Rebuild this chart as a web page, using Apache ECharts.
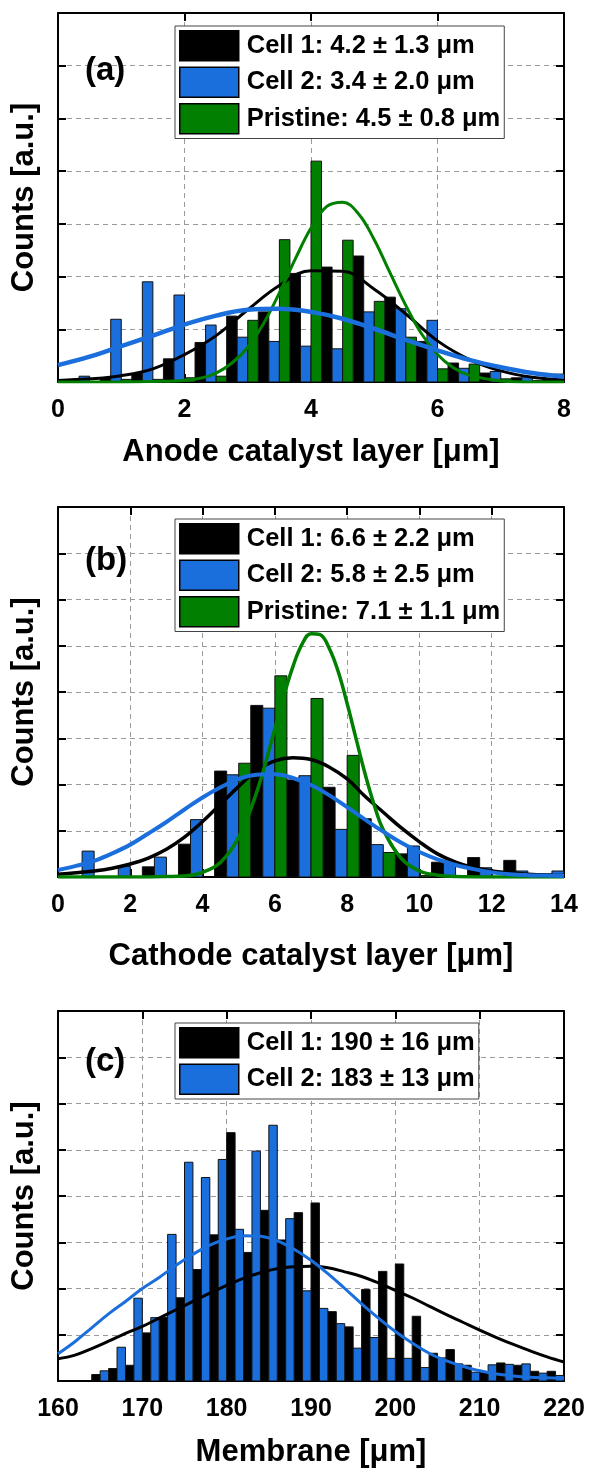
<!DOCTYPE html>
<html><head><meta charset="utf-8">
<script src="https://cdn.jsdelivr.net/npm/echarts@6/dist/echarts.min.js"></script>
<style>html,body{margin:0;padding:0;background:#fff}#c{width:590px;height:1475px}</style>
</head><body><div id="c"></div><script>
// ---------- Panel (a): anode catalyst layer ----------
const aBins = [0.5,1,1.5,2,2.5,3,3.5,4,4.5,5,5.5,6,6.5,7,7.5,8];
const aCell1 = [0.03,0.08,0.16,0.44,0.75,1.25,1.33,2.06,2.18,2.39,1.61,0.77,0.36,0.17,0.08,0.05];
const aCell2 = [0.11,1.19,1.90,1.65,1.08,0.85,0.77,0.68,0.63,1.33,1.39,1.17,0.26,0.20,0.10,0.15];
const aPristine = [0,0.05,0.05,0.08,0.11,1.17,2.70,4.19,2.69,1.53,0.85,0.25,0.34,0.06,0.03,0];
const aFitX = [0,0.5,1,1.5,2,2.5,3,3.5,4,4.5,5,5.5,6,6.5,7,7.5,8];
const aFitCell1 = [0.03,0.06,0.12,0.25,0.52,0.88,1.37,1.83,2.11,2.10,1.76,1.29,0.78,0.43,0.21,0.09,0.04];
const aFitCell2 = [0.32,0.48,0.68,0.88,1.09,1.26,1.37,1.39,1.33,1.20,1.01,0.80,0.60,0.42,0.28,0.17,0.10];
const aFitPristineX = [0,1,1.5,2,2.25,2.5,2.75,3,3.25,3.5,3.75,4,4.25,4.5,4.75,5,5.25,5.5,5.75,6,6.25,6.5,7,7.5,8];
const aFitPristine = [0,0,0.01,0.03,0.07,0.17,0.36,0.66,1.11,1.69,2.33,2.92,3.33,3.41,3.19,2.70,2.07,1.45,0.91,0.52,0.27,0.13,0.02,0,0];
const aNames = ['Cell 1: 4.2 ± 1.3 μm','Cell 2: 3.4 ± 2.0 μm','Pristine: 4.5 ± 0.8 μm'];

// ---------- Panel (b): cathode catalyst layer ----------
const bBins = [1,2,3,4,5,6,7,8,9,10,11,12,13,14];
const bCell1 = [0,0,0.22,0.71,2.29,3.71,2.10,1.94,1.26,0.50,0.32,0.42,0.36,0.07];
const bCell2 = [0.56,0.23,0.43,1.24,2.21,3.65,2.19,1.03,0.70,0.67,0.29,0.20,0.13,0.13];
const bPristine = [0,0,0,0,2.46,4.35,3.86,2.63,0.53,0.03,0,0,0,0];
const bFitX = [0,0.5,1,1.5,2,2.5,3,3.5,4,4.5,5,5.5,6,6.5,7,7.5,8,8.5,9,9.5,10,10.5,11,11.5,12,12.5,13,13.5,14];
const bFitCell1 = [0.06,0.09,0.13,0.19,0.28,0.41,0.60,0.86,1.20,1.58,1.96,2.30,2.51,2.58,2.54,2.38,2.12,1.74,1.40,1.06,0.76,0.50,0.32,0.20,0.13,0.09,0.06,0.04,0.03];
const bFitCell2 = [0.15,0.24,0.35,0.51,0.70,0.94,1.19,1.46,1.72,1.94,2.12,2.21,2.22,2.14,1.99,1.77,1.51,1.24,0.98,0.74,0.54,0.38,0.26,0.17,0.10,0.06,0.04,0.03,0.02];
const bFitPristineX = [0,2,3,3.5,4,4.5,5,5.5,6,6.25,6.5,6.75,7,7.25,7.5,7.75,8,8.25,8.5,8.75,9,9.5,10,10.5,11,12,14];
const bFitPristine = [0,0,0.01,0.02,0.10,0.32,0.86,1.84,3.20,3.92,4.55,5.03,5.26,5.24,4.95,4.45,3.75,2.98,2.22,1.55,1.02,0.40,0.13,0.04,0.01,0,0];
const bNames = ['Cell 1: 6.6 ± 2.2 μm','Cell 2: 5.8 ± 2.5 μm','Pristine: 7.1 ± 1.1 μm'];

// ---------- Panel (c): membrane ----------
const cBins = [165,167,169,171,173,175,177,179,181,183,185,187,189,191,193,195,197,199,201,203,205,207,209,211,213,215,217,219];
const cCell1 = [0.14,0.27,0.34,1.04,1.38,1.80,2.41,3.16,5.37,2.78,3.69,3.05,3.64,3.85,1.50,1.17,1.98,2.37,2.53,1.40,0.60,0.68,0.34,0.19,0.39,0.34,0.21,0.21];
const cCell2 = [0.22,0.73,1.79,1.37,3.17,4.73,4.40,4.79,3.28,4.97,5.53,3.51,1.95,1.57,1.24,0.71,0.94,0.49,0.49,0.29,0.50,0.37,0.19,0.35,0.36,0.37,0.17,0.12];
const cFitX = [160,162,164,166,168,170,172,174,176,178,180,182,184,186,188,190,192,194,196,198,200,202,204,206,208,210,212,214,216,218,220];
const cFitCell1 = [0.48,0.56,0.70,0.86,1.03,1.18,1.36,1.54,1.72,1.90,2.07,2.22,2.34,2.43,2.47,2.48,2.45,2.36,2.26,2.12,1.96,1.80,1.62,1.44,1.27,1.10,0.94,0.79,0.65,0.52,0.41];
const cFitCell2 = [0.59,0.85,1.15,1.45,1.72,2.00,2.24,2.50,2.74,2.94,3.07,3.14,3.13,3.03,2.85,2.61,2.32,2.00,1.67,1.36,1.07,0.82,0.60,0.44,0.32,0.22,0.15,0.11,0.08,0.07,0.06];
const cNames = ['Cell 1: 190 ± 16 μm','Cell 2: 183 ± 13 μm'];

const xTitles = ['Anode catalyst layer [μm]','Cathode catalyst layer [μm]','Membrane [μm]'];
const yTitle = 'Counts [a.u.]';
const panelTags = ['(a)','(b)','(c)'];

// ---------- styling ----------
const FONT = '"Liberation Sans", Arial, Helvetica, sans-serif';
const BLUE = '#1b6fdc', GREEN = '#007f00', BLACK = '#000000';
const layout = [
  {top:13, height:369, xmin:0, xmax:8, xint:2, ymax:7, legTop:26, tagY:71, nameGap:55},
  {top:507, height:370, xmin:0, xmax:14, xint:2, ymax:8, legTop:519, tagY:561, nameGap:64},
  {top:1011, height:370, xmin:160, xmax:220, xint:10, ymax:8, legTop:1023, tagY:1062, nameGap:56}
];

const grid = [], xAxis = [], yAxis = [], series = [], legend = [], graphic = [];
const dash = {color:'#9a9a9a', width:1, type:[5,4]};
layout.forEach((L, i) => {
  grid.push({left:58, width:506, top:L.top, height:L.height, containLabel:false});
  const base = {type:'value', gridIndex:i, min:L.xmin, max:L.xmax, interval:L.xint,
    axisLine:{show:true, onZero:false, lineStyle:{color:'#000', width:2}},
    axisTick:{show:true, inside:true, length:8, lineStyle:{color:'#000', width:2}}};
  xAxis.push(Object.assign({}, base, {position:'bottom',
    axisLabel:{show:true, margin:16, color:'#000', fontSize:25, fontWeight:'bold', fontFamily:FONT},
    splitLine:{show:true, lineStyle:dash},
    name:xTitles[i], nameLocation:'middle', nameGap:L.nameGap,
    nameTextStyle:{color:'#000', fontSize:31, fontWeight:'bold', fontFamily:FONT}}));
  xAxis.push(Object.assign({}, base, {position:'top', axisLabel:{show:false}, splitLine:{show:false}}));
  const ybase = {type:'value', gridIndex:i, min:0, max:L.ymax, interval:1,
    axisLine:{show:true, onZero:false, lineStyle:{color:'#000', width:2}},
    axisTick:{show:true, inside:true, length:8, lineStyle:{color:'#000', width:2}},
    axisLabel:{show:false}};
  yAxis.push(Object.assign({}, ybase, {position:'left', splitLine:{show:true, lineStyle:dash},
    name:yTitle, nameLocation:'middle', nameRotate:90, nameGap:18,
    nameTextStyle:{color:'#000', fontSize:31, fontWeight:'bold', fontFamily:FONT}}));
  yAxis.push(Object.assign({}, ybase, {position:'right', splitLine:{show:false}}));
  graphic.push({type:'text', left:85, top:L.tagY-17, z:10,
    style:{text:panelTags[i], fill:'#000', font:'bold 33px ' + FONT}});
});

function bars(name, bins, vals, color, off0, off1, gi) {
  return {type:'custom', name, xAxisIndex:gi*2, yAxisIndex:gi*2, clip:true, z:2,
    itemStyle:{color, borderColor:'#000', borderWidth:1},
    data: bins.map((b, k) => [b, vals[k]]),
    encode:{x:0, y:1},
    renderItem:(params, api) => {
      const c = api.value(0), v = api.value(1);
      if (!(v > 0)) return null;
      const p0 = api.coord([c + off0, v]), p1 = api.coord([c + off1, 0]);
      return {type:'rect', shape:{x:p0[0], y:p0[1], width:p1[0]-p0[0], height:p1[1]-p0[1]},
        style:{fill:color, stroke:'#111', lineWidth:1}};
    }};
}
function curve(name, xs, ys, color, w, gi, z) {
  return {type:'line', name, xAxisIndex:gi*2, yAxisIndex:gi*2, smooth:0.4, showSymbol:false, symbol:'none',
    z:z, lineStyle:{color, width:w}, itemStyle:{color}, silent:true,
    data: xs.map((x, k) => [x, ys[k]])};
}

// (a) bins width 0.5
series.push(bars(aNames[0], aBins, aCell1, BLACK, -1/3, -1/6, 0));
series.push(bars(aNames[1], aBins, aCell2, BLUE, -1/6, 0, 0));
series.push(bars(aNames[2], aBins, aPristine, GREEN, 0, 1/6, 0));
series.push(curve('fitA1', aFitX, aFitCell1, BLACK, 3, 0, 3));
series.push(curve('fitA3', aFitPristineX, aFitPristine, GREEN, 3, 0, 3));
series.push(curve('fitA2', aFitX, aFitCell2, BLUE, 4.5, 0, 3));
// (b) bins width 1
series.push(bars(bNames[0], bBins, bCell1, BLACK, -2/3, -1/3, 1));
series.push(bars(bNames[1], bBins, bCell2, BLUE, -1/3, 0, 1));
series.push(bars(bNames[2], bBins, bPristine, GREEN, 0, 1/3, 1));
series.push(curve('fitB1', bFitX, bFitCell1, BLACK, 3.5, 1, 3));
series.push(curve('fitB3', bFitPristineX, bFitPristine, GREEN, 3.5, 1, 3));
series.push(curve('fitB2', bFitX, bFitCell2, BLUE, 4, 1, 3));
// (c) bins width 2
series.push(bars(cNames[0], cBins, cCell1, BLACK, -1, 0, 2));
series.push(bars(cNames[1], cBins, cCell2, BLUE, 0, 1, 2));
series.push(curve('fitC1', cFitX, cFitCell1, BLACK, 3, 2, 3));
series.push(curve('fitC2', cFitX, cFitCell2, BLUE, 3, 2, 3));

[aNames, bNames, cNames].forEach((names, i) => {
  legend.push({orient:'vertical', left:175, top:layout[i].legTop, z:6,
    backgroundColor:'#fff', borderColor:'#444', borderWidth:1, borderRadius:0,
    padding:[4,4,4,4], itemGap:5, itemWidth:59, itemHeight:30, icon:'rect',
    selectedMode:false,
    itemStyle:{borderColor:'#000', borderWidth:1.5},
    textStyle:{color:'#000', fontSize:25.5, lineHeight:30, fontWeight:'bold', fontFamily:FONT, padding:[0,0,0,3]},
    data:names});
});

const chart = echarts.init(document.getElementById('c'), null, {renderer:'canvas'});
chart.setOption({backgroundColor:'#fff', animation:false, grid, xAxis, yAxis, series, legend, graphic});
</script></body></html>
